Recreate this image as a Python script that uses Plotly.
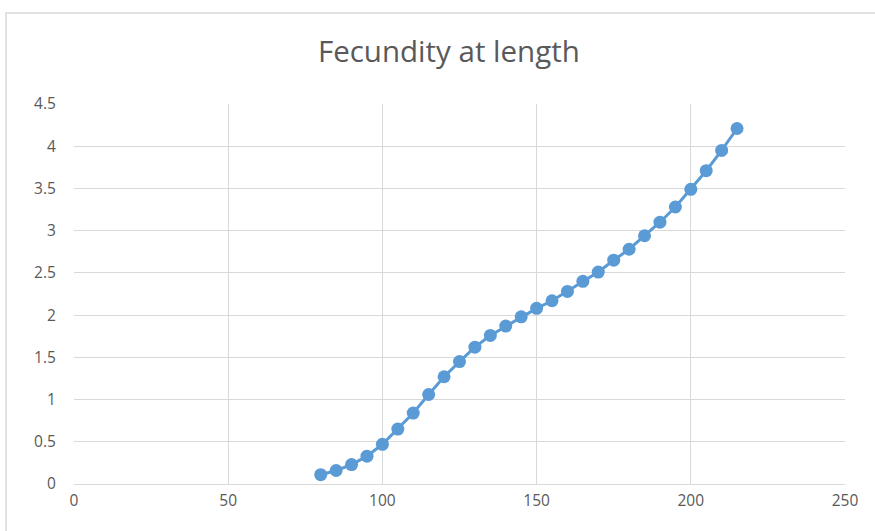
import plotly.graph_objects as go

lengths = [80, 85, 90, 95, 100, 105, 110, 115, 120, 125, 130, 135, 140, 145,
           150, 155, 160, 165, 170, 175, 180, 185, 190, 195, 200, 205, 210, 215]
fecundity = [0.11, 0.16, 0.23, 0.33, 0.47, 0.65, 0.84, 1.06, 1.27, 1.45, 1.62, 1.76, 1.87, 1.98,
             2.08, 2.17, 2.28, 2.40, 2.51, 2.65, 2.78, 2.94, 3.10, 3.28, 3.49, 3.71, 3.95, 4.21]

title_text = "Fecundity at length"
x_ticks = [0, 50, 100, 150, 200, 250]
y_ticks = [0, 0.5, 1, 1.5, 2, 2.5, 3, 3.5, 4, 4.5]

blue = "#5b9bd5"
grid = "#d9d9d9"
txt = "#595959"

fig = go.Figure()
fig.add_trace(go.Scatter(
    x=lengths, y=fecundity, mode="lines+markers",
    line=dict(color=blue, width=3),
    marker=dict(color=blue, size=13),
    showlegend=False,
))

fig.update_layout(
    width=875, height=531,
    margin=dict(l=74, r=30, t=104, b=47),
    paper_bgcolor="white", plot_bgcolor="white",
    title=dict(text=title_text, x=0.513, xanchor="center", y=0.902, yanchor="middle",
               font=dict(family="Open Sans", size=29.5, color=txt)),
    font=dict(family="Open Sans", size=15, color=txt),
    xaxis=dict(range=[0, 250], tickvals=x_ticks, showgrid=True, gridcolor=grid, gridwidth=1,
               zeroline=False, showline=True, linecolor=grid, linewidth=1,
               ticks="outside", ticklen=2, tickcolor="rgba(0,0,0,0)",
               tickfont=dict(size=15.5, color=txt)),
    yaxis=dict(range=[0, 4.5], tickvals=y_ticks, ticktext=[f"{v:g}" for v in y_ticks],
               showgrid=True, gridcolor=grid, gridwidth=1,
               zeroline=False, showline=False,
               ticks="outside", ticklen=14, tickcolor="rgba(0,0,0,0)",
               tickfont=dict(size=15.5, color=txt)),
    shapes=[dict(type="rect", xref="paper", yref="paper",
                 x0=(6 - 74) / 771, x1=1.2, y0=-0.3, y1=(484 - 13) / 380,
                 line=dict(color="#d9d9d9", width=1.5), fillcolor="rgba(0,0,0,0)", layer="below")],
)
fig.write_html("out.html")
